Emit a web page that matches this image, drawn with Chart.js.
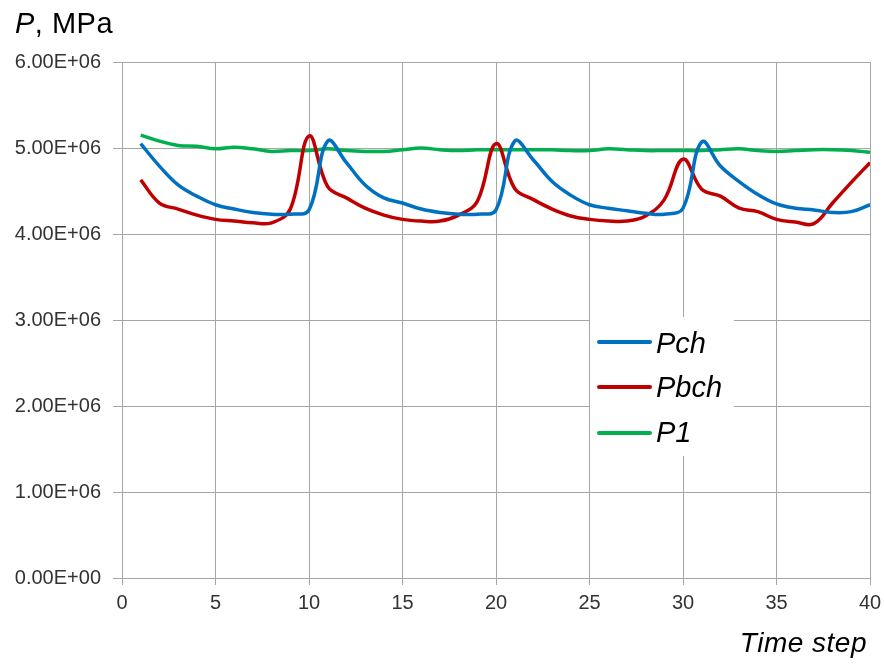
<!DOCTYPE html>
<html><head><meta charset="utf-8">
<script src="https://cdn.jsdelivr.net/npm/chart.js@4"></script>
<style>html,body{margin:0;padding:0;background:#fff}#wrap{width:884px;height:666px}</style>
</head><body><div id="wrap"><canvas id="c" width="884" height="666"></canvas></div>
<script>
const timeSteps = [1,2,3,4,5,6,7,8,9,10,11,12,13,14,15,16,17,18,19,20,21,22,23,24,25,26,27,28,29,30,31,32,33,34,35,36,37,38,39,40];
const pch  = [5.05,4.79,4.57,4.44,4.34,4.29,4.25,4.23,4.23,4.28,5.08,4.83,4.57,4.42,4.36,4.29,4.25,4.23,4.23,4.28,5.08,4.86,4.61,4.45,4.34,4.30,4.27,4.24,4.23,4.30,5.07,4.79,4.61,4.46,4.35,4.30,4.28,4.25,4.26,4.34];
const pbch = [4.63,4.36,4.29,4.22,4.17,4.15,4.13,4.13,4.29,5.14,4.55,4.42,4.30,4.22,4.17,4.15,4.15,4.22,4.38,5.05,4.53,4.40,4.29,4.21,4.17,4.15,4.15,4.21,4.40,4.87,4.52,4.44,4.30,4.26,4.17,4.14,4.12,4.36,4.60,4.83];
const p1   = [5.15,5.08,5.03,5.02,4.99,5.01,4.99,4.96,4.97,4.97,4.99,4.97,4.96,4.96,4.98,5.00,4.98,4.97,4.98,4.98,4.98,4.98,4.98,4.97,4.97,4.99,4.98,4.97,4.97,4.97,4.97,4.98,4.99,4.97,4.96,4.97,4.98,4.98,4.97,4.95];
const seriesNames = ['Pch','Pbch','P1'];
const seriesColors = ['#0070C0','#C00000','#00B050'];
const xTicks = [0,5,10,15,20,25,30,35,40];
const yTicks = [0,1e6,2e6,3e6,4e6,5e6,6e6];

function pts(arr){ return timeSteps.map((t,i)=>({x:t, y:arr[i]*1e6})); }
function fmtE(v){
  if (v === 0) return '0.00E+00';
  const e = Math.floor(Math.log10(Math.abs(v)));
  const m = v / Math.pow(10,e);
  return m.toFixed(2) + 'E' + (e>=0?'+':'-') + String(Math.abs(e)).padStart(2,'0');
}
const FONT = '"Liberation Sans", Arial, sans-serif';

const extras = {
  id:'extras',
  afterDraw(chart){
    const ctx = chart.ctx;
    ctx.save();
    ctx.fillStyle = '#000';
    ctx.textBaseline = 'alphabetic';
    ctx.textAlign = 'left';
    // axis title top-left
    ctx.letterSpacing = '0.5px';
    ctx.font = 'italic 29px ' + FONT;
    ctx.fillText('P', 15, 33);
    const w = ctx.measureText('P').width;
    ctx.font = '29px ' + FONT;
    ctx.fillText(', MPa', 15 + w, 33);
    // x title
    ctx.letterSpacing = '0.5px';
    ctx.font = 'italic 28px ' + FONT;
    ctx.textAlign = 'right';
    ctx.fillText('Time step', 867, 652);
    ctx.letterSpacing = '0px';
    // legend
    ctx.fillStyle = '#fff';
    ctx.fillRect(590, 317, 144, 139);
    ctx.textAlign = 'left';
    ctx.font = 'italic 29px ' + FONT;
    const lines = [342, 387, 433];
    const bases = [353, 397, 442];
    chart.data.datasets.forEach((ds,i)=>{
      ctx.strokeStyle = ds.borderColor;
      ctx.lineWidth = 4;
      ctx.lineCap = 'round';
      ctx.beginPath(); ctx.moveTo(599, lines[i]); ctx.lineTo(650, lines[i]); ctx.stroke();
      ctx.fillStyle = '#000';
      ctx.fillText(ds.label, 656, bases[i]);
    });
    ctx.restore();
  }
};

new Chart(document.getElementById('c'), {
  type:'line',
  data:{ datasets:[
    {label:seriesNames[0], data:pts(pch),  borderColor:seriesColors[0]},
    {label:seriesNames[1], data:pts(pbch), borderColor:seriesColors[1]},
    {label:seriesNames[2], data:pts(p1),   borderColor:seriesColors[2]}
  ].map(d=>Object.assign(d,{borderWidth:3.5, pointRadius:0, tension:0.4, fill:false}))},
  options:{
    responsive:false, animation:false, devicePixelRatio:1,
    layout:{padding:{left:0,right:14,top:62,bottom:0}},
    plugins:{legend:{display:false}, tooltip:{enabled:false}},
    scales:{
      x:{type:'linear', min:0, max:40,
        afterBuildTicks:(s)=>{ s.ticks = xTicks.map(v=>({value:v})); },
        afterFit:(s)=>{ s.height = 88; s.paddingRight = 0; s.paddingLeft = 0; },
        grid:{color:'#a6a6a6', lineWidth:1, tickLength:7, drawTicks:true},
        border:{color:'#a6a6a6'},
        ticks:{color:'#333', font:{family:FONT, size:20}, padding:6, maxRotation:0}
      },
      y:{min:0, max:6e6,
        afterBuildTicks:(s)=>{ s.ticks = yTicks.map(v=>({value:v})); },
        afterFit:(s)=>{ s.width = 122; },
        grid:{color:'#a6a6a6', lineWidth:1, tickLength:9, drawTicks:true},
        border:{color:'#a6a6a6'},
        ticks:{color:'#333', font:{family:FONT, size:20}, padding:12, callback:(v)=>fmtE(v)}
      }
    }
  },
  plugins:[extras]
});
</script></body></html>
